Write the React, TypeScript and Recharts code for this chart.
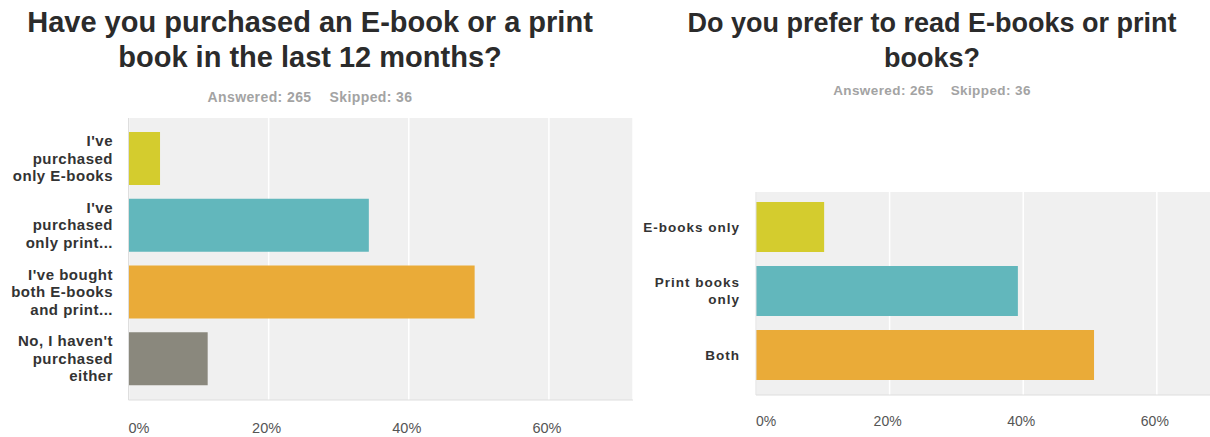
import React from 'react';
import { BarChart, Bar, XAxis, YAxis, CartesianGrid, Cell } from 'recharts';

const leftTitle = ['Have you purchased an E-book or a print', 'book in the last 12 months?'];
const rightTitle = ['Do you prefer to read E-books or print', 'books?'];
const answeredLabel = 'Answered: 265';
const skippedLabel = 'Skipped: 36';

const leftCategories = [
  "I've purchased only E-books",
  "I've purchased only print...",
  "I've bought both E-books and print...",
  "No, I haven't purchased either",
];
const leftLabelLines = [
  ["I've", 'purchased', 'only E-books'],
  ["I've", 'purchased', 'only print...'],
  ["I've bought", 'both E-books', 'and print...'],
  ["No, I haven't", 'purchased', 'either'],
];
const leftValues = [4.5, 34.3, 49.4, 11.3];
const leftColors = ['#d4cc2e', '#62b7bc', '#eaab38', '#8a887d'];

const rightCategories = ['E-books only', 'Print books only', 'Both'];
const rightLabelLines = [['E-books only'], ['Print books', 'only'], ['Both']];
const rightValues = [10.2, 39.2, 50.6];
const rightColors = ['#d4cc2e', '#62b7bc', '#eaab38'];

const xTicks = [0, 20, 40, 60];
const xDomain = [0, 72];

const FONT = '"Liberation Sans", Arial, Helvetica, sans-serif';

const leftData = leftCategories.map((name, i) => ({ name, value: leftValues[i] }));
const rightData = rightCategories.map((name, i) => ({ name, value: rightValues[i] }));

function makeYTick(cats: string[], lines: string[][], offsetX: number, lineH: number, fontSize: number, ls: number) {
  return (props: any) => {
    const { x, y, payload } = props;
    const idx = cats.indexOf(payload.value);
    const ln = idx >= 0 ? lines[idx] : [String(payload.value)];
    const n = ln.length;
    const tx = x - offsetX;
    return (
      <text x={tx} y={y} textAnchor="end" fontFamily={FONT} fontWeight="bold" fontSize={fontSize} fill="#333" letterSpacing={ls}>
        {ln.map((l, i) => (
          <tspan key={i} x={tx} dy={i === 0 ? -((n - 1) / 2) * lineH + fontSize * 0.35 : lineH}>
            {l}
          </tspan>
        ))}
      </text>
    );
  };
}

function makeXTick(dy: number, fontSize: number) {
  return (props: any) => {
    const { x, y, payload } = props;
    const v = payload.value;
    const start = v === 0;
    return (
      <text x={start ? x : x - 2} y={y + dy} textAnchor={start ? 'start' : 'middle'} fontFamily={FONT} fontSize={fontSize} fill="#555">
        {v + '%'}
      </text>
    );
  };
}

const titleStyle: React.CSSProperties = {
  position: 'absolute',
  fontFamily: FONT,
  fontWeight: 'bold',
  color: '#2b2b2b',
  textAlign: 'center',
  whiteSpace: 'nowrap',
};

const subStyle: React.CSSProperties = {
  position: 'absolute',
  fontFamily: FONT,
  fontWeight: 'bold',
  color: '#a3a3a3',
  textAlign: 'center',
  whiteSpace: 'nowrap',
  fontSize: 14,
  lineHeight: '16px',
  letterSpacing: 0.4,
};

export default function App() {
  return (
    <div style={{ position: 'absolute', left: 0, top: 0, width: 1210, height: 437, overflow: 'hidden', background: '#fff' }}>
      <div style={{ ...titleStyle, left: 0, top: 5, width: 620, fontSize: 29, lineHeight: '35px' }}>
        {leftTitle.map((t, i) => (
          <div key={i}>{t}</div>
        ))}
      </div>
      <div style={{ ...subStyle, left: 0, top: 89, width: 620 }}>
        {answeredLabel}
        <span style={{ display: 'inline-block', width: 18 }} />
        {skippedLabel}
      </div>

      <div style={{ ...titleStyle, left: 632, top: 6, width: 600, fontSize: 27, lineHeight: '35px' }}>
        {rightTitle.map((t, i) => (
          <div key={i}>{t}</div>
        ))}
      </div>
      <div style={{ ...subStyle, left: 632, top: 83, width: 600, fontSize: 13.5 }}>
        {answeredLabel}
        <span style={{ display: 'inline-block', width: 17 }} />
        {skippedLabel}
      </div>

      <div style={{ position: 'absolute', left: 0, top: 0 }}>
        <BarChart width={640} height={437} data={leftData} layout="vertical" margin={{ top: 118, right: 7, bottom: 0, left: 8.5 }}>
          <CartesianGrid horizontal={false} stroke="#ffffff" strokeWidth={1.5} fill="#f0f0f0" />
          <XAxis
            type="number"
            domain={xDomain}
            ticks={xTicks}
            height={37}
            tickSize={0}
            tickMargin={0}
            tickLine={false}
            axisLine={{ stroke: '#dedede' }}
            tick={makeXTick(32.5, 14.5)}
            allowDataOverflow
          />
          <YAxis
            type="category"
            dataKey="name"
            width={120}
            padding={{ top: 7, bottom: 8 }}
            tickSize={0}
            tickMargin={0}
            tickLine={false}
            axisLine={{ stroke: '#dedede' }}
            interval={0}
            tick={makeYTick(leftCategories, leftLabelLines, 15.5, 17.5, 15, 0.5)}
          />
          <Bar dataKey="value" barSize={53} isAnimationActive={false}>
            {leftData.map((d, i) => (
              <Cell key={d.name} fill={leftColors[i]} />
            ))}
          </Bar>
        </BarChart>
      </div>

      <div style={{ position: 'absolute', left: 620, top: 0 }}>
        <BarChart width={640} height={437} data={rightData} layout="vertical" margin={{ top: 192, right: 23, bottom: 0, left: 16 }}>
          <CartesianGrid horizontal={false} stroke="#ffffff" strokeWidth={1.5} fill="#f0f0f0" />
          <XAxis
            type="number"
            domain={xDomain}
            ticks={xTicks}
            height={42}
            tickSize={0}
            tickMargin={0}
            tickLine={false}
            axisLine={{ stroke: '#dedede' }}
            tick={makeXTick(30.5, 14)}
            allowDataOverflow
          />
          <YAxis
            type="category"
            dataKey="name"
            width={120}
            padding={{ top: 3, bottom: 8 }}
            tickSize={0}
            tickMargin={0}
            tickLine={false}
            axisLine={{ stroke: '#dedede' }}
            interval={0}
            tick={makeYTick(rightCategories, rightLabelLines, 16, 17, 13.5, 1)}
          />
          <Bar dataKey="value" barSize={50} isAnimationActive={false}>
            {rightData.map((d, i) => (
              <Cell key={d.name} fill={rightColors[i]} />
            ))}
          </Bar>
        </BarChart>
      </div>
    </div>
  );
}
